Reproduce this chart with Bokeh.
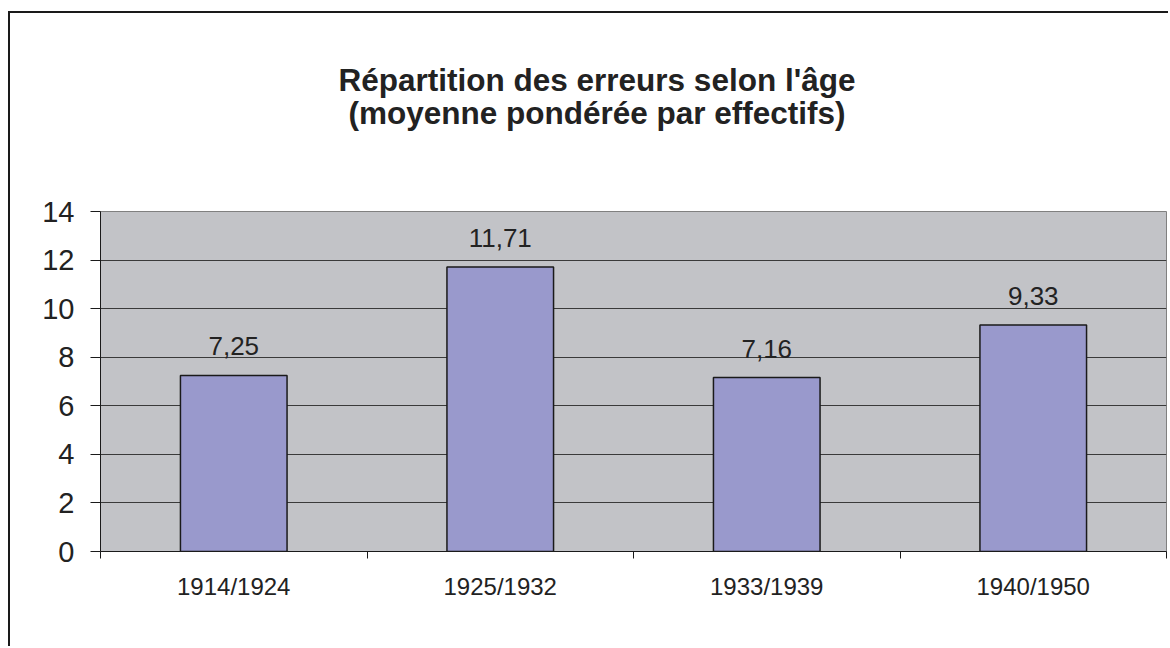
from bokeh.plotting import figure
from bokeh.models import Range1d, FixedTicker, Title, ColumnDataSource
from bokeh.core.properties import value
from bokeh.embed import file_html
from bokeh.resources import INLINE

# ---- data ----
categories = ["1914/1924", "1925/1932", "1933/1939", "1940/1950"]
values = [7.25, 11.71, 7.16, 9.33]
y_ticks = [0, 2, 4, 6, 8, 10, 12, 14]
title_line1 = "Répartition des erreurs selon l'âge"
title_line2 = "(moyenne pondérée par effectifs)"

FONT = "Liberation Sans"
TXT = "#222222"
TSIZE = "31.5px"

n = len(categories)
xpos = [i + 0.5 for i in range(n)]
labels = [f"{v:.2f}".replace(".", ",") for v in values]
src = ColumnDataSource(dict(x=xpos, top=values, label=labels))

W, H = 1160, 635
p = figure(width=W, height=H, output_backend="svg", toolbar_location=None,
           x_range=Range1d(0, n), y_range=Range1d(0, 14),
           min_border_left=90, min_border_right=4, min_border_top=198,
           min_border_bottom=97)
p.styles = {"margin-left": "8px", "margin-top": "11px",
            "border-left": "2px solid #1a1a1a",
            "border-top": "2px solid #1a1a1a"}
p.background_fill_color = "#C2C3C7"
p.border_fill_color = "white"
p.outline_line_color = "#808080"
p.outline_line_width = 1

# bars
p.vbar(x="x", top="top", width=0.4, source=src, fill_color="#9999CC",
       line_color="#1a1a1a", line_width=1.5)

# value labels
p.text(x="x", y="top", text="label", source=src, text_align="center",
       text_baseline="alphabetic", y_offset=-29, text_font=value(FONT),
       text_font_size="26px", text_color=TXT)

# y axis
yax = p.yaxis[0]
yax.ticker = FixedTicker(ticks=y_ticks)
yax.major_tick_in = 0
yax.major_tick_out = 10
yax.minor_tick_in = 0
yax.minor_tick_out = 0
yax.axis_line_color = "#1a1a1a"
yax.major_tick_line_color = "#1a1a1a"
yax.major_label_text_font = FONT
yax.major_label_text_font_size = "29px"
yax.major_label_text_color = TXT
yax.major_label_standoff = 16

# x axis: labels at centres, ticks at boundaries (minor)
xax = p.xaxis[0]
xax.ticker = FixedTicker(ticks=xpos, minor_ticks=list(range(n + 1)))
xax.major_label_overrides = {x: c for x, c in zip(xpos, categories)}
xax.major_tick_in = 0
xax.major_tick_out = 0
xax.minor_tick_in = 0
xax.minor_tick_out = 7
xax.minor_tick_line_color = "#1a1a1a"
xax.axis_line_color = "#1a1a1a"
xax.major_label_text_font = FONT
xax.major_label_text_font_size = "24px"
xax.major_label_text_color = TXT
xax.major_label_standoff = 14

# grid
p.xgrid.grid_line_color = None
p.ygrid.ticker = FixedTicker(ticks=y_ticks)
p.ygrid.grid_line_color = "#3a3a3a"
p.ygrid.grid_line_width = 1

# blank spacer between frame and title block (white on white)
p.add_layout(Title(text=".", standoff=59, text_font=FONT, text_font_size=TSIZE,
                   text_color="white"), "above")
# title (two lines), nearest-to-frame first
p.add_layout(Title(text=title_line2, align="left", offset=248, standoff=-4,
                   text_font=FONT, text_font_size=TSIZE,
                   text_font_style="bold", text_color=TXT), "above")
p.add_layout(Title(text=title_line1, align="left", offset=238, standoff=-6,
                   text_font=FONT, text_font_size=TSIZE,
                   text_font_style="bold", text_color=TXT), "above")

open("out.html", "w").write(file_html(p, INLINE))
